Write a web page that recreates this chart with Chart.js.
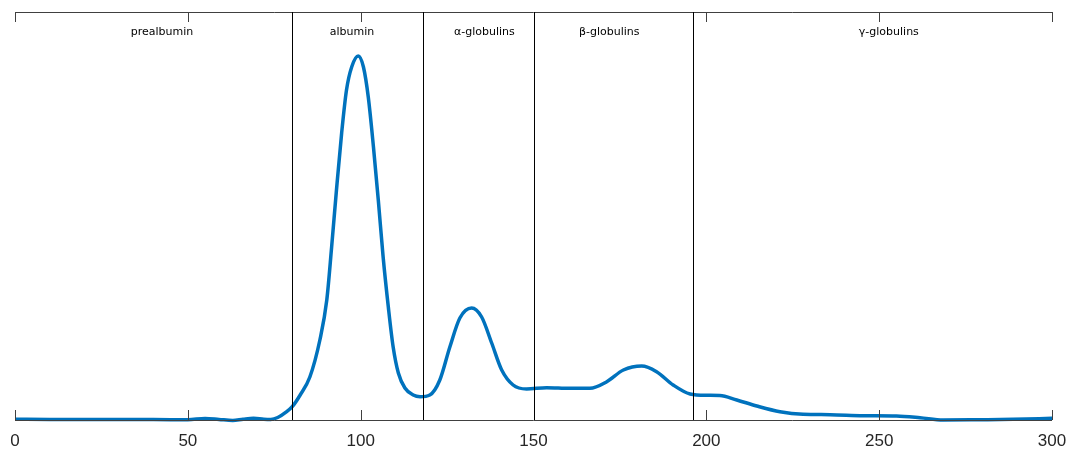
<!DOCTYPE html>
<html>
<head>
<meta charset="utf-8">
<script src="https://cdn.jsdelivr.net/npm/chart.js@4/dist/chart.umd.min.js"></script>
<style>
  html, body { margin: 0; padding: 0; background: #fff; }
  #wrap { width: 1072px; height: 451px; }
</style>
</head>
<body>
<div id="wrap"><canvas id="electro"></canvas></div>
<script>
// migration distance and densitometer intensity
const position = [0, 10, 20, 30, 40, 50, 55, 59, 63, 66, 69, 72, 74, 76, 78.6, 80.2, 82.5, 85.3, 88.2, 90.2,
  91.6, 93, 94.5, 95.9, 97.4, 99.3, 100.8, 102.2, 103.7, 105.1, 106.5, 108, 109.4, 110.9, 112.8, 115.2,
  117.2, 120, 122.9, 125.8, 128.7, 132.1, 135, 137.9, 140.8, 144.1, 148, 153.8, 160.5, 166.3, 171.2,
  176, 181.3, 185.6, 190.4, 195.3, 200.1, 203.9, 208.8, 214.6, 221.3, 228, 235.8, 245.4, 255, 261.8,
  268.5, 279.1, 288.8, 300];
const intensity = [0.7, 0.6, 0.6, 0.5, 0.5, 0.2, 1.6, 0.6, -0.5, 0.8, 1.7, 0.8, 0.6, 2.5, 8.3, 13.3, 25, 43, 80, 120,
  173, 230, 287, 330, 353, 364, 353, 323, 273, 220, 163, 113, 73, 47, 32, 25,
  23.3, 25, 40, 73, 102, 112, 103, 77, 50, 35, 31, 32.3, 31.7, 31.7, 38.3,
  50, 54, 48.3, 35, 26, 24.7, 24.5, 20, 14, 8.3, 5.7, 5.3, 4.3, 4, 2.3,
  0, 0.3, 0.7, 1.7];

// protein fraction boundaries and their labels
const bandEdges = [80, 118, 150, 196];
const bandNames = ['prealbumin', 'albumin', 'α-globulins', 'β-globulins', 'γ-globulins'];
const bandLabelX = [42.5, 97.5, 135.8, 171.9, 252.8];
const xTicks = [0, 50, 100, 150, 200, 250, 300];

const axisColor = '#404040';

const bandsPlugin = {
  id: 'bands',
  afterDatasetsDraw(chart) {
    const { ctx, chartArea: a, scales: { x } } = chart;
    ctx.save();
    // top and bottom axis lines with inward ticks
    ctx.strokeStyle = axisColor;
    ctx.lineWidth = 1;
    ctx.beginPath();
    ctx.moveTo(a.left, a.top + 0.5); ctx.lineTo(a.right, a.top + 0.5);
    ctx.moveTo(a.left, a.bottom + 0.5); ctx.lineTo(a.right, a.bottom + 0.5);
    xTicks.forEach(t => {
      const px = Math.round(x.getPixelForValue(t)) + 0.5;
      ctx.moveTo(px, a.top); ctx.lineTo(px, a.top + 10);
      ctx.moveTo(px, a.bottom); ctx.lineTo(px, a.bottom - 10);
    });
    ctx.stroke();
    // fraction boundaries
    ctx.strokeStyle = '#000';
    ctx.beginPath();
    bandEdges.forEach(e => {
      const px = Math.round(x.getPixelForValue(e)) + 0.5;
      ctx.moveTo(px, a.top); ctx.lineTo(px, a.bottom);
    });
    ctx.stroke();
    ctx.fillStyle = '#000';
    ctx.font = '11px "DejaVu Sans"';
    ctx.textAlign = 'center';
    ctx.textBaseline = 'middle';
    bandNames.forEach((name, i) => {
      ctx.fillText(name, x.getPixelForValue(bandLabelX[i]), a.top + 20);
    });
    ctx.restore();
  }
};

new Chart(document.getElementById('electro'), {
  type: 'line',
  data: {
    datasets: [{
      data: position.map((p, i) => ({ x: p, y: intensity[i] })),
      borderColor: '#0072BD',
      borderWidth: 3.5,
      pointRadius: 0,
      cubicInterpolationMode: 'monotone',
      fill: false,
      clip: false
    }]
  },
  options: {
    responsive: true,
    maintainAspectRatio: false,
    animation: false,
    layout: { padding: { left: 15, right: 20, top: 12, bottom: 0 } },
    plugins: { legend: { display: false }, tooltip: { enabled: false } },
    scales: {
      x: {
        type: 'linear',
        min: 0,
        max: 300,
        afterBuildTicks: s => { s.ticks = xTicks.map(v => ({ value: v })); },
        afterFit: s => { s.height = 31; s.paddingLeft = 0; s.paddingRight = 0; },
        grid: { display: false, drawTicks: false },
        border: { display: false },
        ticks: { color: '#262626', padding: 11, font: { family: 'Liberation Sans', size: 17 } }
      },
      y: { display: false, min: 0, max: 408 }
    }
  },
  plugins: [bandsPlugin]
});
</script>
</body>
</html>
